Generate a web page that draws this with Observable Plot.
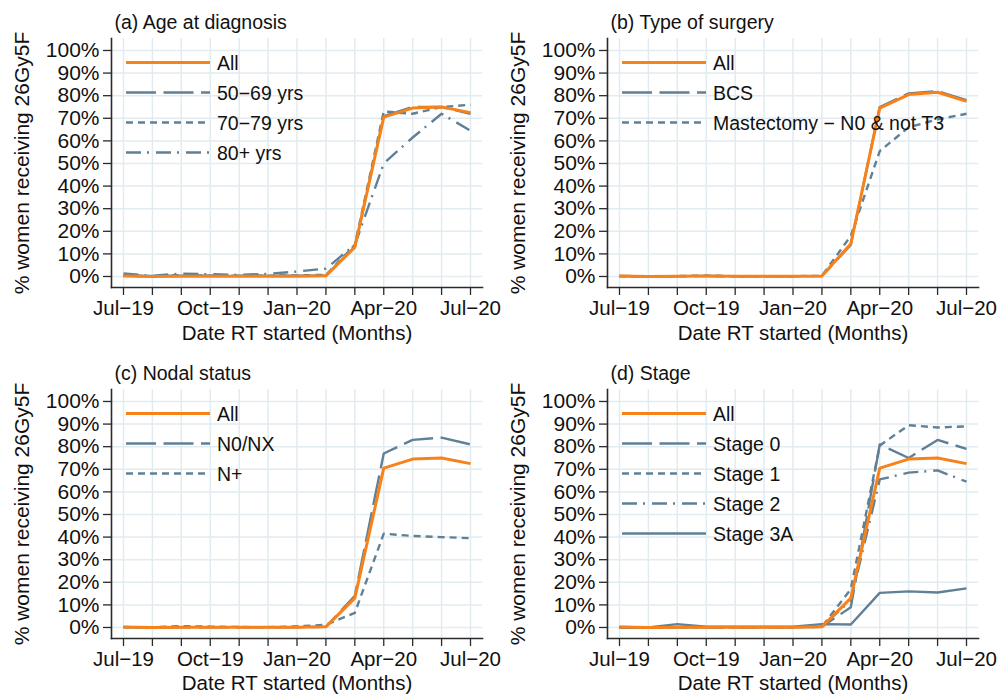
<!DOCTYPE html>
<html>
<head>
<meta charset="utf-8">
<script src="https://cdn.jsdelivr.net/npm/d3@7"></script>
<script src="https://cdn.jsdelivr.net/npm/@observablehq/plot@0.6"></script>
<style>
  html, body { margin: 0; padding: 0; background: #fff; overflow: hidden; }
  #root { position: relative; width: 998px; height: 695px; }
  .panel { position: absolute; }
  .panel svg { overflow: visible; }
  .legend { position: absolute; left: 0; top: 0; pointer-events: none; }
</style>
</head>
<body>
<div id="root"></div>
<script>
// ---------- data ----------
const months = ["Jul−19","Aug−19","Sep−19","Oct−19","Nov−19","Dec−19","Jan−20","Feb−20","Mar−20","Apr−20","May−20","Jun−20","Jul−20"];
const xTickAt = [0, 3, 6, 9, 12];
const xTickLabels = ["Jul−19","Oct−19","Jan−20","Apr−20","Jul−20"];
const yTicks = [0,10,20,30,40,50,60,70,80,90,100];

const titles = ["(a) Age at diagnosis", "(b) Type of surgery", "(c) Nodal status", "(d) Stage"];
const yLabel = "% women receiving 26Gy5F";
const xLabel = "Date RT started (Months)";

// (a) Age at diagnosis
const allA    = [0.2, 0.0, 0.1, 0.1, 0.1, 0.1, 0.1, 0.3, 13.0, 70.5, 74.5, 75.0, 72.5];
const age5069 = [0.3, 0.2, 0.4, 0.3, 0.3, 0.3, 0.3, 0.5, 13.0, 71.0, 75.0, 75.0, 72.0];
const age7079 = [0.5, 0.1, 0.6, 0.4, 0.3, 0.4, 0.5, 0.7, 14.0, 73.0, 72.0, 75.0, 76.0];
const age80   = [1.3, 0.3, 1.3, 1.0, 0.7, 1.2, 2.2, 3.5, 14.0, 50.0, 61.5, 72.0, 64.5];
// (b) Type of surgery
const allB    = [0.2, 0.0, 0.1, 0.2, 0.1, 0.1, 0.1, 0.2, 14.5, 74.5, 80.5, 81.5, 77.5];
const bcs     = [0.2, 0.0, 0.1, 0.2, 0.1, 0.1, 0.1, 0.2, 14.0, 75.0, 81.0, 82.0, 78.0];
const mastect = [0.1, 0.0, 0.2, 0.4, 0.1, 0.0, 0.1, 0.3, 18.0, 55.5, 66.0, 69.5, 72.0];
// (c) Nodal status
const allC    = [0.2, 0.0, 0.1, 0.1, 0.1, 0.1, 0.1, 0.3, 13.0, 70.5, 74.5, 75.0, 72.5];
const n0nx    = [0.1, 0.0, 0.1, 0.1, 0.1, 0.1, 0.1, 0.3, 14.0, 77.0, 83.0, 84.0, 81.0];
const nplus   = [0.2, 0.1, 0.6, 0.4, 0.2, 0.1, 0.5, 1.2, 6.5, 41.5, 40.5, 40.0, 39.5];
// (d) Stage
const allD    = [0.2, 0.0, 0.1, 0.1, 0.1, 0.1, 0.1, 0.3, 13.0, 70.5, 74.5, 75.0, 72.5];
const stage0  = [0.1, 0.0, 0.1, 0.1, 0.1, 0.1, 0.1, 0.3, 9.0, 81.0, 75.0, 83.0, 79.0];
const stage1  = [0.1, 0.0, 0.1, 0.1, 0.1, 0.1, 0.1, 0.3, 17.0, 80.5, 89.5, 88.5, 89.0];
const stage2  = [0.2, 0.0, 0.2, 0.1, 0.1, 0.1, 0.1, 0.5, 12.0, 65.5, 68.5, 69.5, 64.5];
const stage3a = [0.0, 0.0, 1.5, 0.3, 0.3, 0.3, 0.3, 1.5, 1.3, 15.3, 16.0, 15.5, 17.3];

// ---------- styles ----------
const ORANGE = "#f8821a";
const GREY = "#5f8096";
const GRID = "#e2ebef";
const AXIS = "#2a2a2a";
const FONT = "'Liberation Sans', Arial, Helvetica, sans-serif";
const DASH = {solid: null, long: "30,7.5", short: "7,5", dashdot: "15,6,2,7"};

const panels = [
  {title: titles[0], left: 0, top: 0, height: 347, xlabDy: 46, series: [
    {name: "All", values: allA, color: ORANGE, dash: "solid", width: 3},
    {name: "50−69 yrs", values: age5069, color: GREY, dash: "long", width: 2.4},
    {name: "70−79 yrs", values: age7079, color: GREY, dash: "short", width: 2.4},
    {name: "80+ yrs", values: age80, color: GREY, dash: "dashdot", width: 2.4}]},
  {title: titles[1], left: 496, top: 0, height: 347, xlabDy: 46, series: [
    {name: "All", values: allB, color: ORANGE, dash: "solid", width: 3},
    {name: "BCS", values: bcs, color: GREY, dash: "long", width: 2.4},
    {name: "Mastectomy − N0 & not T3", values: mastect, color: GREY, dash: "short", width: 2.4}]},
  {title: titles[2], left: 0, top: 351, height: 344, xlabDy: 45, series: [
    {name: "All", values: allC, color: ORANGE, dash: "solid", width: 3},
    {name: "N0/NX", values: n0nx, color: GREY, dash: "long", width: 2.4},
    {name: "N+", values: nplus, color: GREY, dash: "short", width: 2.4}]},
  {title: titles[3], left: 496, top: 351, height: 344, xlabDy: 45, series: [
    {name: "All", values: allD, color: ORANGE, dash: "solid", width: 3},
    {name: "Stage 0", values: stage0, color: GREY, dash: "long", width: 2.4},
    {name: "Stage 1", values: stage1, color: GREY, dash: "short", width: 2.4},
    {name: "Stage 2", values: stage2, color: GREY, dash: "dashdot", width: 2.4},
    {name: "Stage 3A", values: stage3a, color: GREY, dash: "solid", width: 2.4}]}
];

const root = document.getElementById("root");
const monthIdx = months.map((m, i) => i);

function lineMark(s) {
  const data = s.values.map((v, i) => ({i, v, month: months[i]}));
  return Plot.line(data, {
    x: "i", y: "v", stroke: s.color, strokeWidth: s.width,
    strokeDasharray: DASH[s.dash] || undefined, strokeLinejoin: "round", strokeLinecap: "butt"
  });
}

for (const p of panels) {
  const marginTop = 38, plotH = 249;
  const marginBottom = p.height - marginTop - plotH;
  const ordered = [...p.series.slice(1), p.series[0]];
  const chart = Plot.plot({
    width: 499,
    height: p.height,
    marginLeft: 111, marginRight: 17, marginTop, marginBottom,
    x: {domain: [-0.415, 12.415]},
    y: {domain: [-4.87, 105.3]},
    style: {fontFamily: FONT, fontSize: "20.5px", color: "#111", background: "transparent", overflow: "visible"},
    marks: [
      Plot.gridX(monthIdx, {stroke: GRID, strokeOpacity: 1, strokeWidth: 1.5}),
      Plot.gridY(yTicks, {stroke: GRID, strokeOpacity: 1, strokeWidth: 1.5}),
      Plot.axisX(monthIdx, {
        tickSize: 8, tickPadding: 5, stroke: AXIS, strokeWidth: 1.3, label: null, fill: "#111", fontSize: 20.5,
        tickFormat: d => { const k = xTickAt.indexOf(d); return k >= 0 ? xTickLabels[k] : ""; }
      }),
      Plot.axisY(yTicks, {
        tickSize: 8, tickPadding: 4, stroke: AXIS, strokeWidth: 1.3, label: null, fill: "#111", fontSize: 21,
        tickFormat: d => d + "%"
      }),
      Plot.frame({anchor: "left", stroke: AXIS, strokeWidth: 1.6}),
      Plot.frame({anchor: "bottom", stroke: AXIS, strokeWidth: 1.6}),
      ...ordered.map(lineMark),
      Plot.text([p.title], {text: d => d, frameAnchor: "top-left", dx: 3, dy: -16, textAnchor: "start", lineAnchor: "middle", fontSize: 19.5, fill: "#111"}),
      Plot.text([yLabel], {text: d => d, frameAnchor: "left", dx: -89, rotate: -90, textAnchor: "middle", lineAnchor: "middle", fontSize: 21, fill: "#111"}),
      Plot.text([xLabel], {text: d => d, frameAnchor: "bottom", dy: p.xlabDy, textAnchor: "middle", lineAnchor: "middle", fontSize: 20.5, fill: "#111"})
    ]
  });

  const div = document.createElement("div");
  div.className = "panel";
  div.style.left = p.left + "px";
  div.style.top = p.top + "px";
  div.style.width = "499px";
  div.style.height = p.height + "px";
  div.appendChild(chart);

  const leg = d3.create("svg").attr("class", "legend").attr("width", 499).attr("height", 220)
    .style("font-family", FONT).style("font-size", "19.5px");
  p.series.forEach((s, k) => {
    const y = 62.5 + 30 * k;
    leg.append("line").attr("x1", 126).attr("x2", 210).attr("y1", y).attr("y2", y)
      .attr("stroke", s.color).attr("stroke-width", s.width)
      .attr("stroke-dasharray", DASH[s.dash]).attr("stroke-linecap", "butt");
    leg.append("text").attr("x", 217).attr("y", y).attr("dy", "0.36em").attr("fill", "#111").text(s.name);
  });
  div.appendChild(leg.node());
  root.appendChild(div);
}
</script>
</body>
</html>
